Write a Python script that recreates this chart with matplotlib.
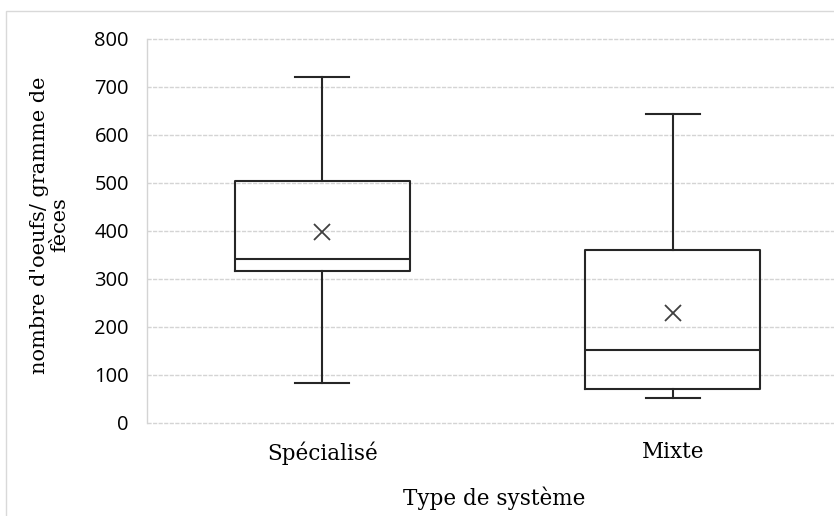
import matplotlib.pyplot as plt
from matplotlib.patches import Rectangle

categories = ['Spécialisé', 'Mixte']
whisker_low = [83, 52]
q1 = [317, 71]
medians = [342, 152]
q3 = [505, 361]
whisker_high = [720, 643]
means = [397, 230]
yticks = [0, 100, 200, 300, 400, 500, 600, 700, 800]

fig = plt.figure(figsize=(8.34, 5.16), dpi=100)
# outer chart border (cropped on the right and bottom)
fig.patches.append(Rectangle((6 / 834, -0.1), 1.0, 1 - 11 / 516 + 0.1,
                             transform=fig.transFigure, fill=False,
                             edgecolor='#d9d9d9', linewidth=1))

ax = fig.add_axes([147 / 834, 1 - 423 / 516, 701 / 834, 384 / 516])

stats = []
for i, name in enumerate(categories):
    stats.append({'label': name, 'whislo': whisker_low[i], 'q1': q1[i],
                  'med': medians[i], 'q3': q3[i], 'whishi': whisker_high[i],
                  'mean': means[i], 'fliers': []})

line = dict(color='#262626', linewidth=1.5)
ax.bxp(stats, positions=[1, 2], widths=0.5, showmeans=True, capwidths=0.155,
       boxprops=line, whiskerprops=line, capprops=line, medianprops=line,
       meanprops=dict(marker='x', markersize=11, markeredgecolor='#404040',
                      markeredgewidth=1.3), zorder=3)

ax.set_xlim(0.5, 2.5)
ax.set_ylim(0, 800)
ax.set_yticks(yticks)
ax.set_yticklabels([str(v) for v in yticks], fontfamily='Open Sans', fontsize=14.5)
ax.set_xticks([1, 2])
ax.set_xticklabels(categories, fontfamily='DejaVu Serif', fontsize=15.5)
ax.tick_params(axis='both', length=0, colors='black')
ax.tick_params(axis='y', pad=13)
ax.tick_params(axis='x', pad=13)

ax.grid(axis='y', color='#d4d4d4', linestyle=(0, (3, 1)), linewidth=1, zorder=0)
for gl in ax.get_ygridlines():
    gl.set_clip_on(False)
for side in ['top', 'right', 'bottom']:
    ax.spines[side].set_visible(False)
ax.spines['left'].set_color('#d4d4d4')
ax.spines['left'].set_linestyle((0, (3, 1)))
ax.spines['left'].set_linewidth(1)

fig.text(50 / 834, 1 - 225 / 516, "nombre d'oeufs/ gramme de\nfèces", rotation=90,
         ha='center', va='center', fontfamily='DejaVu Serif', fontsize=15,
         linespacing=1.1)
fig.text(494 / 834, 1 - 498 / 516, 'Type de système', ha='center', va='center',
         fontfamily='DejaVu Serif', fontsize=15.5)

fig.savefig('out.png', dpi=100)
